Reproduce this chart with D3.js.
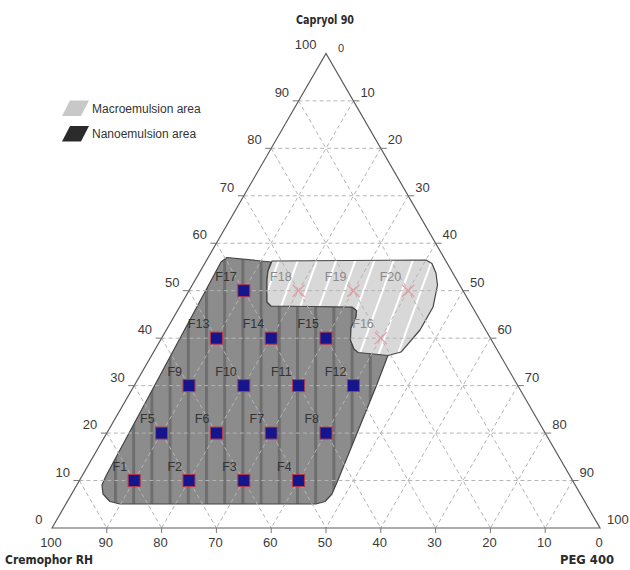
<!DOCTYPE html>
<html><head><meta charset="utf-8">
<script src="https://cdn.jsdelivr.net/npm/d3@7/dist/d3.min.js"></script>
<style>body{margin:0;background:#fff}svg{display:block}</style>
</head><body>
<svg id="chart" width="630" height="570"></svg>
<script>
// ---- data ----
const axisTicks = [0, 10, 20, 30, 40, 50, 60, 70, 80, 90, 100];
const axisTitles = ["Capryol 90", "Cremophor RH", "PEG 400"];
const formulations = ["F1","F2","F3","F4","F5","F6","F7","F8","F9","F10","F11","F12","F13","F14","F15","F16","F17","F18","F19","F20"];
const capryol  = [10,10,10,10,20,20,20,20,30,30,30,30,40,40,40,40,50,50,50,50];
const cremophor= [80,70,60,50,70,60,50,40,60,50,40,30,50,40,30,20,40,30,20,10];
const peg      = [10,20,30,40,10,20,30,40,10,20,30,40,10,20,30,40,10,20,30,40];
const emulsion = ["nano","nano","nano","nano","nano","nano","nano","nano","nano","nano","nano","nano","nano","nano","nano","macro","nano","macro","macro","macro"];
const legendLabels = ["Macroemulsion area", "Nanoemulsion area"];
// region outlines (Capryol %, PEG %)
const nanoCapryol = [56.05,57.0,56.05,54.15,52.25,47.62,46.78,46.57,45.83,44.46,42.14,39.61,37.72,37.5,30.13,10.11,7.16,5.58,5.06,5.06,5.58,7.16,9.06,10.96];
const nanoPeg     = [2.82,3.43,11.94,12.34,13.1,15.42,16.57,31.46,32.66,33.24,33.49,34.66,36.25,42.93,44.18,47.13,47.51,47.03,45.65,9.88,7.79,5.73,4.59,4.37];
const macroCapryol = [56.26,56.47,55.73,53.73,51.2,46.57,41.72,37.08,36.35,36.98,37.72,39.61,42.14,44.46,45.83,46.57,46.78,47.62,52.25,54.15];
const macroPeg     = [12.02,40.02,41.47,43.2,44.75,46.25,46.29,45.15,43.14,37.35,36.25,34.66,33.49,33.24,32.66,31.46,16.57,15.42,13.1,12.34];

// ---- scales ----
const svg = d3.select("#chart");
const sx = d3.scaleLinear().domain([0, 100]).range([52, 600]);   // PEG + Capryol/2
const sy = d3.scaleLinear().domain([0, 100]).range([528, 53.4]); // Capryol
const P = (c, p) => [sx(p + c / 2), sy(c)];

// ---- patterns ----
const defs = svg.append("defs");
const pn = defs.append("pattern").attr("id","nanoPat").attr("patternUnits","userSpaceOnUse")
  .attr("x",114).attr("y",0).attr("width",18.2).attr("height",10);
pn.append("rect").attr("width",18.2).attr("height",10).attr("fill","#8c8c8c");
pn.append("rect").attr("x",0).attr("width",3).attr("height",10).attr("fill","#6e6e6e");
const pm = defs.append("pattern").attr("id","macroPat").attr("patternUnits","userSpaceOnUse")
  .attr("width",18).attr("height",18).attr("patternTransform","rotate(20)");
pm.append("rect").attr("width",18).attr("height",18).attr("fill","#d8d8d8");
pm.append("rect").attr("x",8).attr("width",2).attr("height",18).attr("fill","#ffffff");

const line = d3.line().curve(d3.curveLinearClosed);

// ---- regions ----
svg.append("path")
  .attr("d", line(nanoCapryol.map((c, i) => P(c, nanoPeg[i]))))
  .attr("fill","url(#nanoPat)").attr("stroke","#444").attr("stroke-width",1.2).attr("stroke-linejoin","round");
svg.append("path")
  .attr("d", line(macroCapryol.map((c, i) => P(c, macroPeg[i]))))
  .attr("fill","url(#macroPat)").attr("stroke","#444").attr("stroke-width",1.2).attr("stroke-linejoin","round");

// ---- grid ----
const grid = svg.append("g").attr("stroke","#b4b4b4").attr("stroke-width",1).attr("stroke-dasharray","4,3").attr("fill","none");
axisTicks.filter(v => v > 0 && v < 100).forEach(v => {
  grid.append("path").attr("d", d3.line()([P(v, 0), P(v, 100 - v)]));          // constant Capryol
  grid.append("path").attr("d", d3.line()([P(100 - v, 0), P(0, 100 - v)]));    // constant Cremophor
  grid.append("path").attr("d", d3.line()([P(100 - v, v), P(0, v)]));          // constant PEG
});

// ---- triangle ----
svg.append("path").attr("d", line([P(0,0), P(100,0), P(0,100)]))
  .attr("fill","none").attr("stroke","#5a5a5a").attr("stroke-width",1.2);

// ---- ticks & labels ----
const tk = svg.append("g").attr("stroke","#777").attr("stroke-width",1);
const lab = svg.append("g").attr("font-family","'Liberation Sans', Arial, sans-serif").attr("font-size",13).attr("fill","#3a3a3a");
axisTicks.forEach(v => {
  const [lx, ly] = P(v, 0);
  if (v > 0 && v < 100) tk.append("line").attr("x1", lx).attr("x2", lx - 6).attr("y1", ly).attr("y2", ly);
  lab.append("text").attr("x", lx - 9.5).attr("y", ly - 4).attr("text-anchor","end").text(v);
  const [bx, by] = P(0, 100 - v);
  if (v > 0 && v < 100) tk.append("line").attr("x1", bx).attr("x2", bx).attr("y1", by).attr("y2", by + 5);
  lab.append("text").attr("x", bx - 1).attr("y", by + 18.5).attr("text-anchor","middle").text(v);
  const [rx, ry] = P(100 - v, v);
  if (v > 0 && v < 100) tk.append("line").attr("x1", rx).attr("x2", rx + 6).attr("y1", ry).attr("y2", ry);
  lab.append("text").attr("x", rx + (v === 0 ? 12 : 7)).attr("y", ry - (v === 0 ? 1 : 4)).attr("text-anchor","start")
    .attr("font-size", v === 0 ? 11 : 13).text(v);
});

// ---- axis titles ----
const tt = svg.append("g").attr("font-family","'DejaVu Sans Condensed', 'Liberation Sans Narrow', 'DejaVu Sans', sans-serif")
  .attr("font-weight","bold").attr("font-size",12).attr("fill","#2a2a2a");
tt.append("text").attr("x", 296).attr("y", 24).attr("textLength", 58).attr("lengthAdjust","spacingAndGlyphs").text(axisTitles[0]);
tt.append("text").attr("x", 5).attr("y", 564).attr("textLength", 88).attr("lengthAdjust","spacingAndGlyphs").text(axisTitles[1]);
tt.append("text").attr("x", 560).attr("y", 564).attr("textLength", 54).attr("lengthAdjust","spacingAndGlyphs").text(axisTitles[2]);

// ---- points ----
const pts = formulations.map((f, i) => ({f, c: capryol[i], a: cremophor[i], p: peg[i], e: emulsion[i]}));
const g = svg.append("g");
pts.forEach(d => {
  const [x, y] = P(d.c, d.p);
  if (d.e === "nano") {
    g.append("rect").attr("x", x - 6).attr("y", y - 6).attr("width", 12).attr("height", 12)
      .attr("fill","#15158e").attr("stroke","#b03a4a").attr("stroke-width",1);
  } else {
    g.append("path").attr("d", `M${x-6},${y-6}L${x+6},${y+6}M${x-6},${y+6}L${x+6},${y-6}`)
      .attr("stroke","#e79aa3").attr("stroke-width",1.3).attr("fill","none");
  }
  g.append("text").attr("x", x - 7).attr("y", y - 10).attr("text-anchor","end")
    .attr("font-family","'Liberation Sans', Arial, sans-serif").attr("font-size",12.5)
    .attr("fill", d.e === "nano" ? "#333" : "#8a8a8a").text(d.f);
});

// ---- legend ----
const lg = svg.append("g");
const swatch = [["#c8c8c8", 100.5], ["#2b2b2b", 126]];
legendLabels.forEach((t, i) => {
  const y0 = swatch[i][1];
  lg.append("path").attr("d", `M${70},${y0}L${89},${y0}L${81},${y0+15.5}L${62},${y0+15.5}Z`).attr("fill", swatch[i][0]);
  lg.append("text").attr("x", 92).attr("y", y0 + 12).attr("font-family","'Liberation Sans', Arial, sans-serif")
    .attr("font-size",12).attr("fill","#333").text(t);
});
</script>
</body></html>
